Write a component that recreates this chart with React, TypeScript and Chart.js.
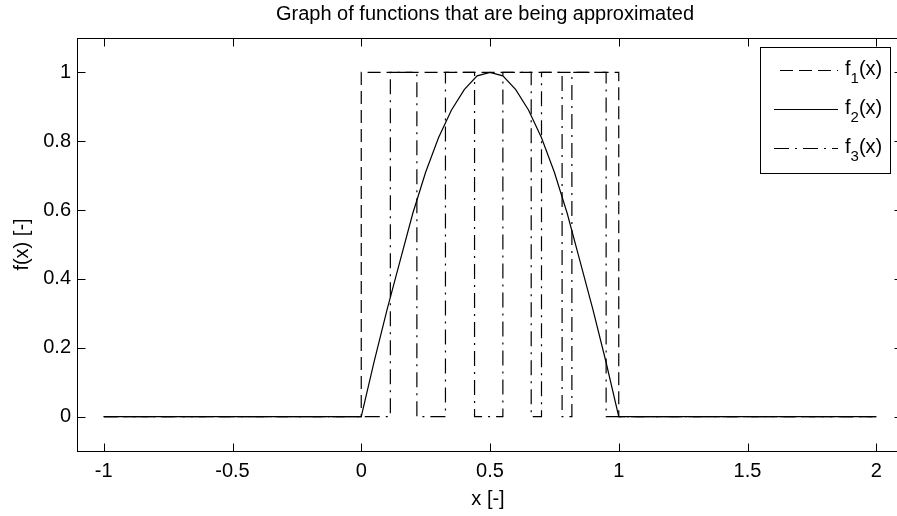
import React, { useEffect, useRef } from "react";
import { Chart, registerables } from "chart.js";

Chart.register(...registerables);

const titleText = "Graph of functions that are being approximated";
const xTitle = "x [-]";
const yTitle = "f(x) [-]";

const xTicks = [-1, -0.5, 0, 0.5, 1, 1.5, 2];
const xTickLabels = ["-1", "-0.5", "0", "0.5", "1", "1.5", "2"];
const yTicks = [0, 0.2, 0.4, 0.6, 0.8, 1];
const yTickLabels = ["0", "0.2", "0.4", "0.6", "0.8", "1"];

// f1: rectangular pulse (dashed)
const f1X = [-1, 0, 0, 1, 1, 2];
const f1Y = [0, 0, 1, 1, 0, 0];

// f2: smooth hump (solid)
const f2X = [-1, 0, 0.05, 0.1, 0.15, 0.2, 0.25, 0.3, 0.35, 0.4, 0.45, 0.5, 0.55, 0.6, 0.65, 0.7, 0.75, 0.8, 0.85, 0.9, 0.95, 1, 2];
const f2Y = [0, 0, 0.16, 0.31, 0.45, 0.59, 0.71, 0.81, 0.89, 0.95, 0.99, 1.0, 0.99, 0.95, 0.89, 0.81, 0.71, 0.59, 0.45, 0.31, 0.16, 0, 0];

// f3: pulse train (dash-dot)
const f3X = [-1, 0.113, 0.113, 0.216, 0.216, 0.327, 0.327, 0.44, 0.44, 0.55, 0.55, 0.66, 0.66, 0.7, 0.7, 0.78, 0.78, 0.818, 0.818, 0.951, 0.951, 2];
const f3Y = [0, 0, 1, 1, 0, 0, 1, 1, 0, 0, 1, 1, 0, 0, 1, 1, 0, 0, 1, 1, 0, 0];

const seriesNames = ["1", "2", "3"];

const FONT = "'Liberation Sans', Arial, Helvetica, sans-serif";
const DASH1 = [13, 6];
const DASH3 = [15, 6, 2, 6];

const toPts = (xs: number[], ys: number[]) => xs.map((x, i) => ({ x, y: ys[i] }));

const decorPlugin = {
  id: "decor",
  afterDatasetsDraw(chart: any) {
    const { ctx, chartArea: a, scales } = chart;
    ctx.save();
    ctx.strokeStyle = "#000";
    ctx.lineWidth = 1;
    ctx.setLineDash([]);
    const L = a.left - 0.5;
    const R = a.right + 0.5;
    const T = a.top + 0.5;
    const B = a.bottom + 0.5;
    ctx.strokeRect(L, T, R - L, B - T);
    ctx.beginPath();
    for (const v of xTicks) {
      const px = Math.round(scales.x.getPixelForValue(v)) + 0.5;
      ctx.moveTo(px, B);
      ctx.lineTo(px, B - 8);
      ctx.moveTo(px, T);
      ctx.lineTo(px, T + 8);
    }
    for (const v of yTicks) {
      const py = Math.round(scales.y.getPixelForValue(v)) + 0.5;
      ctx.moveTo(L, py);
      ctx.lineTo(L + 8, py);
      ctx.moveTo(R, py);
      ctx.lineTo(R - 8, py);
    }
    ctx.stroke();

    // titles
    ctx.fillStyle = "#000";
    ctx.font = `20px ${FONT}`;
    ctx.textAlign = "center";
    ctx.textBaseline = "alphabetic";
    const cx = (a.left + a.right) / 2;
    ctx.fillText(titleText, cx - 5, 20);
    ctx.fillText(xTitle, cx - 2, 505);
    ctx.save();
    ctx.translate(28, (a.top + a.bottom) / 2);
    ctx.rotate(-Math.PI / 2);
    ctx.fillText(yTitle, 0, 0);
    ctx.restore();

    // legend
    const bx = 760.5, by = 47.5, bw = 130, bh = 126;
    ctx.fillStyle = "#fff";
    ctx.fillRect(bx, by, bw, bh);
    ctx.strokeStyle = "#000";
    ctx.strokeRect(bx, by, bw, bh);
    const lineYs = [70.5, 109.5, 148.5];
    const dashes = [DASH1, [], DASH3];
    const offsets = [13, 0, 0];
    for (let i = 0; i < 3; i++) {
      const y = lineYs[i];
      ctx.beginPath();
      ctx.setLineDash(dashes[i]);
      ctx.lineDashOffset = offsets[i];
      ctx.moveTo(774, y);
      ctx.lineTo(838, y);
      ctx.stroke();
      ctx.setLineDash([]);
      ctx.lineDashOffset = 0;
      ctx.fillStyle = "#000";
      ctx.textAlign = "left";
      let x = 845;
      ctx.font = `20px ${FONT}`;
      ctx.fillText("f", x, y + 4);
      x += ctx.measureText("f").width;
      ctx.font = `15px ${FONT}`;
      ctx.fillText(seriesNames[i], x, y + 12);
      x += ctx.measureText(seriesNames[i]).width;
      ctx.font = `20px ${FONT}`;
      ctx.fillText("(x)", x, y + 4);
    }
    ctx.restore();
  },
};

export default function App() {
  const ref = useRef<HTMLCanvasElement | null>(null);
  useEffect(() => {
    const canvas = ref.current;
    if (!canvas) return;
    const lineDs = (label: string, xs: number[], ys: number[], dash: number[]) => ({
      label,
      data: toPts(xs, ys),
      borderColor: "#000",
      backgroundColor: "#000",
      borderWidth: 1.2,
      borderDash: dash,
      pointRadius: 0,
      pointHoverRadius: 0,
      tension: 0,
      fill: false,
    });
    const chart = new Chart(canvas, {
      type: "line",
      data: {
        datasets: [
          lineDs("f1(x)", f1X, f1Y, DASH1),
          lineDs("f2(x)", f2X, f2Y, []),
          lineDs("f3(x)", f3X, f3Y, DASH3),
        ],
      },
      options: {
        responsive: false,
        animation: false,
        parsing: false,
        normalized: true,
        events: [],
        layout: { padding: { left: 0, right: 18, top: 38, bottom: 0 } },
        plugins: {
          legend: { display: false },
          title: { display: false },
          tooltip: { enabled: false },
        },
        scales: {
          x: {
            type: "linear",
            min: -1.1,
            max: 2.1,
            grid: { display: false, drawTicks: false },
            border: { display: false },
            afterBuildTicks: (s: any) => {
              s.ticks = xTicks.map((v) => ({ value: v }));
            },
            afterFit: (s: any) => {
              s.height = 65;
            },
            ticks: {
              autoSkip: false,
              maxRotation: 0,
              padding: 8,
              color: "#000",
              font: { family: FONT, size: 20 },
              callback: (v: any) => {
                const i = xTicks.findIndex((t) => Math.abs(t - v) < 1e-9);
                return i >= 0 ? xTickLabels[i] : "";
              },
            },
          },
          y: {
            type: "linear",
            min: -0.1,
            max: 1.1,
            grid: { display: false, drawTicks: false },
            border: { display: false },
            afterBuildTicks: (s: any) => {
              s.ticks = yTicks.map((v) => ({ value: v }));
            },
            afterFit: (s: any) => {
              s.width = 78;
            },
            ticks: {
              autoSkip: false,
              padding: 7,
              color: "#000",
              font: { family: FONT, size: 20 },
              callback: (v: any) => {
                const i = yTicks.findIndex((t) => Math.abs(t - v) < 1e-9);
                return i >= 0 ? yTickLabels[i] : "";
              },
            },
          },
        },
      },
      plugins: [decorPlugin],
    } as any);
    return () => chart.destroy();
  }, []);
  return (
    <div
      style={{
        position: "fixed",
        left: 0,
        top: 0,
        width: 897,
        height: 516,
        overflow: "hidden",
        background: "#fff",
      }}
    >
      <canvas ref={ref} width={920} height={516} style={{ width: 920, height: 516, display: "block" }} />
    </div>
  );
}
